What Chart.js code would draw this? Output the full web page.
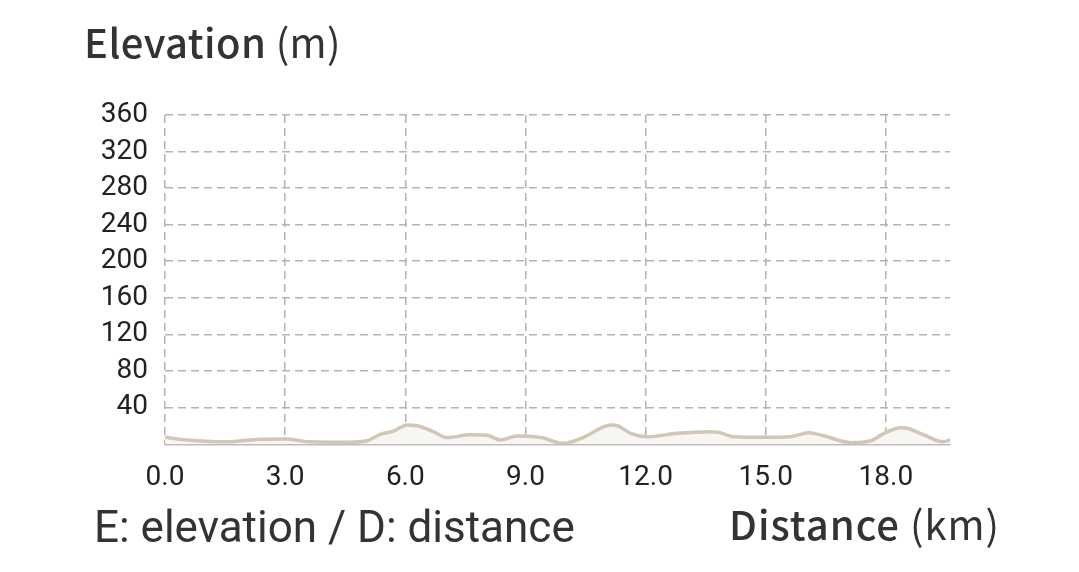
<!DOCTYPE html>
<html>
<head>
<meta charset="utf-8">
<script src="https://cdn.jsdelivr.net/npm/chart.js@4.4.1/dist/chart.umd.min.js"></script>
<style>
  html, body { margin: 0; padding: 0; background: #fff; }
  #wrap { position: relative; width: 1079px; height: 572px; overflow: hidden; }
  canvas { position: absolute; left: 0; top: 0; }
  .t { position: absolute; color: #333; font-family: "Noto Sans CJK KR", "Noto Sans", sans-serif; white-space: nowrap; line-height: 1; }
  #ytitle { left: 84px; top: 21px; font-size: 40px; letter-spacing: 0.4px; }
  #xtitle { left: 729px; top: 503px; font-size: 40px; letter-spacing: 1px; }
  #note { left: 94px; top: 505px; font-size: 44px; color: #333; font-family: Roboto, sans-serif; }
  b { font-weight: 500; }
  span.n { font-weight: 400; }
</style>
</head>
<body>
<div id="wrap">
  <canvas id="c" width="1079" height="572"></canvas>
  <div class="t" id="ytitle"><b>Elevation</b> <span class="n">(m)</span></div>
  <div class="t" id="note">E: elevation / D: distance</div>
  <div class="t" id="xtitle"><b>Distance</b> <span class="n">(km)</span></div>
</div>
<script>
// Distance along the route (km)
const distanceKm = [0.0, 0.4, 1.55, 2.3, 3.0, 3.6, 4.55, 5.05, 5.375, 5.7, 6.05, 6.3, 6.7, 7.05, 7.625, 8.05, 8.375, 8.8, 9.45, 9.6, 9.95, 10.45, 11.125, 11.3, 11.625, 12.05, 12.8, 13.55, 13.8, 14.2, 14.95, 15.625, 16.075, 16.45, 17.125, 17.625, 17.95, 18.375, 18.55, 18.95, 19.425, 19.6];
// Elevation (m)
const elevationM = [7.3, 5, 2.5, 5, 5.5, 2.5, 2, 3.6, 10.6, 14, 20.8, 20, 13.5, 7, 10.2, 9.5, 4.4, 8.8, 6.6, 4.4, 0.7, 7.3, 20.8, 20, 11.7, 8, 11.7, 13.5, 13, 8, 7.3, 8, 12.4, 9, 1.5, 3.6, 11.7, 17.9, 17, 9.9, 2.5, 4.4];
// Axis ticks
const xTickValues = [0, 3, 6, 9, 12, 15, 18];
const yTickValues = [40, 80, 120, 160, 200, 240, 280, 320, 360];
const xMax = 19.6;
const yMax = 360;

const points = distanceKm.map((d, i) => ({ x: d, y: elevationM[i] }));

new Chart(document.getElementById('c'), {
  type: 'line',
  data: {
    datasets: [{
      data: points,
      borderColor: '#d0c7b4',
      backgroundColor: '#f8f6f2',
      borderWidth: 3.5,
      fill: 'origin',
      pointRadius: 0,
      tension: 0.4,
      cubicInterpolationMode: 'monotone'
    }]
  },
  options: {
    responsive: false,
    animation: false,
    devicePixelRatio: 1,
    layout: { padding: { left: 0, top: 115, right: 129, bottom: 0 } },
    plugins: { legend: { display: false }, tooltip: { enabled: false } },
    scales: {
      x: {
        type: 'linear',
        min: 0,
        max: xMax,
        afterFit: (s) => { s.height = 128; },
        afterBuildTicks: (s) => { s.ticks = xTickValues.map(v => ({ value: v })); },
        ticks: {
          padding: 17,
          color: '#222',
          font: { family: 'Roboto, sans-serif', size: 28 },
          callback: (v) => Number(v).toFixed(1),
          maxRotation: 0,
          autoSkip: false
        },
        grid: { color: '#b4b4b4', lineWidth: 1.5, drawTicks: false },
        border: { display: true, color: '#bdbdbd', width: 2.5, dash: [8, 5] }
      },
      y: {
        min: 0,
        max: yMax,
        afterFit: (s) => { s.width = 165; },
        afterBuildTicks: (s) => { s.ticks = [0].concat(yTickValues).map(v => ({ value: v })); },
        ticks: {
          padding: 17,
          color: '#222',
          autoSkip: false,
          font: { family: 'Roboto, sans-serif', size: 28 },
          callback: (v) => (v === 0 ? '' : String(v))
        },
        grid: { color: '#b4b4b4', lineWidth: 1.5, drawTicks: false },
        border: { display: false, dash: [8, 5] }
      }
    }
  }
});
</script>
</body>
</html>
